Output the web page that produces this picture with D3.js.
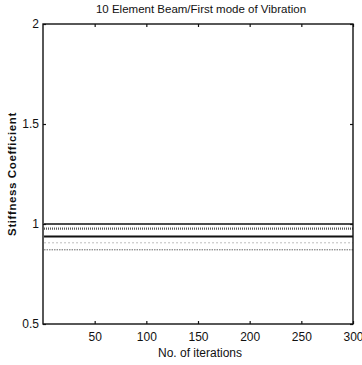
<!DOCTYPE html>
<html>
<head>
<meta charset="utf-8">
<script src="https://cdn.jsdelivr.net/npm/d3@7"></script>
<style>
  body { margin: 0; background: #fff; }
  text { font-family: "Liberation Sans", Arial, sans-serif; fill: #111; }
</style>
</head>
<body>
<script>
// iterations span
var iterations = [1, 300];
var xTicks = [50, 100, 150, 200, 250, 300];
var yTicks = [0.5, 1, 1.5, 2];
// converged stiffness coefficient level of each trace
var levels = [1.0, 0.977, 0.937, 0.906, 0.871];
var styles = [
    { color: "#111", width: 1.6, dash: null },
    { color: "#555", width: 2.4, dash: "1,1" },
    { color: "#111", width: 2.0, dash: null },
    { color: "#bbb", width: 1.0, dash: "2,2" },
    { color: "#666", width: 1.0, dash: "1.5,1" }
];

let width = 362;
let height = 365;
let padL = 43, padR = 353, padT = 24, padB = 324;

let xScale = d3.scaleLinear().domain([0, 300]).range([padL, padR]);
let yScale = d3.scaleLinear().domain([0.5, 2]).range([padB, padT]);

let svg = d3.select("body").append("svg")
    .attr("width", width)
    .attr("height", height);

// the lines
svg.selectAll("line.series")
    .data(levels)
    .enter()
    .append("line")
    .attr("class", "series")
    .attr("x1", xScale(iterations[0]))
    .attr("x2", xScale(iterations[1]))
    .attr("y1", (d) => yScale(d))
    .attr("y2", (d) => yScale(d))
    .attr("stroke", (d, i) => styles[i].color)
    .attr("stroke-width", (d, i) => styles[i].width)
    .attr("stroke-dasharray", (d, i) => styles[i].dash);

// axes, ticks pointing inwards
let xAxis = d3.axisBottom(xScale).tickValues(xTicks).tickSizeInner(-3).tickSizeOuter(0).tickPadding(8);
let yAxis = d3.axisLeft(yScale).tickValues(yTicks).tickFormat(d3.format("")).tickSizeInner(-3).tickSizeOuter(0).tickPadding(4);

let gx = svg.append("g").attr("transform", "translate(0," + padB + ")").call(xAxis);
let gy = svg.append("g").attr("transform", "translate(" + padL + ",0)").call(yAxis);
let gxTop = svg.append("g").attr("transform", "translate(0," + padT + ")")
    .call(d3.axisTop(xScale).tickValues(xTicks).tickSizeInner(-3).tickSizeOuter(0).tickFormat(""));
let gyRight = svg.append("g").attr("transform", "translate(" + padR + ",0)")
    .call(d3.axisRight(yScale).tickValues(yTicks).tickSizeInner(-3).tickSizeOuter(0).tickFormat(""));

[gx, gy, gxTop, gyRight].forEach((g) => {
    g.select(".domain").remove();
    g.selectAll("line").attr("stroke", "#111").attr("stroke-width", 1.2);
    g.selectAll("text").attr("font-size", "12px").attr("fill", "#111");
});

// box
svg.append("rect")
    .attr("x", padL)
    .attr("y", padT)
    .attr("width", padR - padL)
    .attr("height", padB - padT)
    .attr("fill", "none")
    .attr("stroke", "#111")
    .attr("stroke-width", 1.4);

// title and labels
svg.append("text")
    .attr("x", (padL + padR) / 2 + 3)
    .attr("y", 13)
    .attr("text-anchor", "middle")
    .attr("font-size", "11.5px")
    .text("10 Element Beam/First mode of Vibration");

svg.append("text")
    .attr("x", (padL + padR) / 2 + 2)
    .attr("y", 357)
    .attr("text-anchor", "middle")
    .attr("font-size", "12px")
    .text("No. of iterations");

svg.append("text")
    .attr("transform", "translate(16," + 174 + ") rotate(-90)")
    .attr("text-anchor", "middle")
    .attr("font-size", "11.5px")
    .attr("font-weight", "bold")
    .attr("letter-spacing", "0.6px")
    .text("Stiffness Coefficient");
</script>
</body>
</html>
